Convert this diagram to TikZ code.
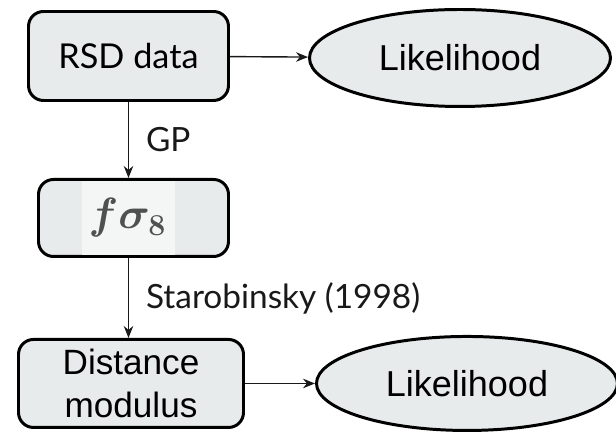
\documentclass[tikz,border=0pt]{standalone}
\usepackage{bm}
\usepackage{fontspec}
\setmainfont{Lato}
\newfontfamily\arialfont{Liberation Sans}
\usepackage{tikz}
\usetikzlibrary{shapes,arrows.meta,calc,positioning}
\definecolor{boxgray}{RGB}{232,235,236}
\definecolor{imgwhite}{RGB}{244,245,245}
\definecolor{inkgray}{RGB}{80,80,80}

\begin{document}
\begin{tikzpicture}[
      node distance=1.5cm and 1.5cm,
      block/.style={rectangle, draw=black, fill=boxgray, line width=1.7pt, rounded corners=0.3cm, align=center, inner sep=0pt},
      lik/.style={ellipse, draw=black, fill=boxgray, line width=1.7pt, inner sep=0pt, minimum width=6.02cm, minimum height=1.94cm, font=\arialfont\fontsize{20.5}{24}\selectfont},
      arrow/.style={-{Stealth[length=2.4mm, width=1.9mm]}, line width=0.8pt, black!90},
      edgelbl/.style={font=\fontsize{19}{23}\selectfont, xshift=0.22cm}
    ]
      \useasboundingbox (-2.57,1.12) rectangle (9.75,-7.52);

      \node[block, minimum width=4.0cm, minimum height=1.78cm, font=\fontsize{19.5}{23}\selectfont] (rsd) {RSD data};
      \node[lik, right=1.56cm of rsd, yshift=-0.04cm] (like1) {Likelihood};
      \node[block, minimum width=3.8cm, minimum height=1.54cm, below=1.52cm of rsd, xshift=0.1cm] (fs) {};
      \fill[imgwhite] ([xshift=-1.03cm, yshift=-0.06cm]fs.north) rectangle ([xshift=0.83cm, yshift=0.06cm]fs.south);
      \node[text=inkgray, xshift=-0.12cm, font=\fontsize{27}{32}\selectfont] (fsig) at (fs.center) {$\bm{f\sigma_8}$};
      \node[block, minimum width=4.5cm, minimum height=1.76cm, below=1.6cm of fs, xshift=-0.05cm, font=\arialfont\fontsize{20}{24}\selectfont] (dm) {Distance\\modulus};
      \node[lik, minimum height=1.88cm, right=1.4cm of dm] (like2) {Likelihood};

      \draw[arrow] (rsd) -- (like1);
      \draw[arrow] (rsd) -- node[right, edgelbl] {GP} (fs.north -| rsd);
      \draw[arrow] (fs.south -| rsd) -- node[right, edgelbl] {Starobinsky (1998)} (dm.north -| rsd);
      \draw[arrow] (dm) -- (like2);
    \end{tikzpicture}
\end{document}
